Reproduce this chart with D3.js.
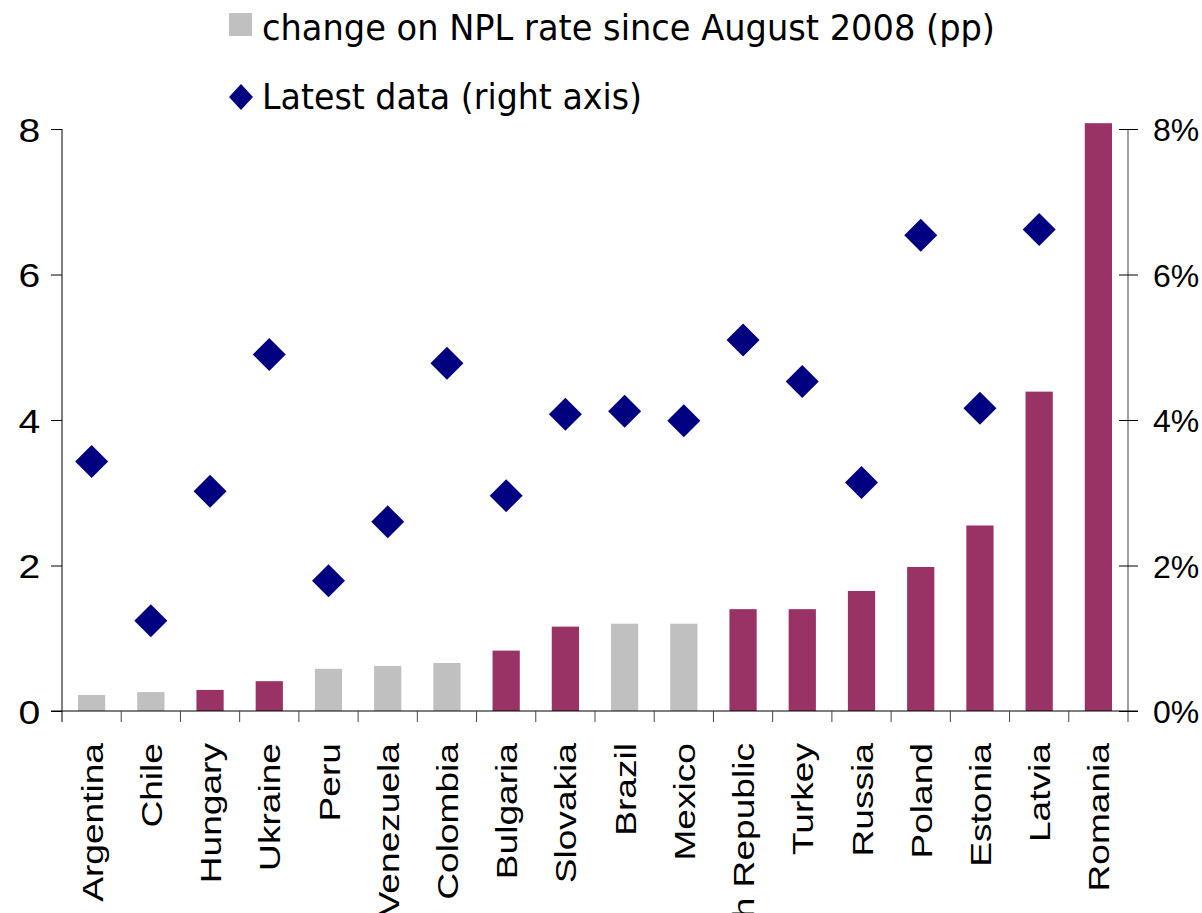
<!DOCTYPE html>
<html>
<head>
<meta charset="utf-8">
<script src="https://cdn.jsdelivr.net/npm/d3@7"></script>
<style>
  body { margin: 0; background: #fff; }
  svg { display: block; }
</style>
</head>
<body>
<div id="chart"></div>
<script>
// Countries, sorted by the change in NPL rate
var countries = ["Argentina", "Chile", "Hungary", "Ukraine", "Peru", "Venezuela", "Colombia",
    "Bulgaria", "Slovakia", "Brazil", "Mexico", "Czech Republic", "Turkey", "Russia",
    "Poland", "Estonia", "Latvia", "Romania"];
// change on NPL rate since August 2008 (pp), left axis
var changePP = [0.22, 0.26, 0.29, 0.41, 0.58, 0.62, 0.66, 0.83, 1.16, 1.20, 1.20, 1.40,
    1.40, 1.65, 1.98, 2.55, 4.39, 8.08];
// latest NPL rate (%), right axis; no diamond for Romania
var latest = [3.43, 1.24, 3.02, 4.90, 1.79, 2.60, 4.78, 2.96, 4.08, 4.12, 3.99, 5.10,
    4.53, 3.14, 6.54, 4.16, 6.62, null];
// Latin American countries drawn in grey
var latam = ["Argentina", "Chile", "Peru", "Venezuela", "Colombia", "Brazil", "Mexico"];
var leftTicks = [0, 2, 4, 6, 8];
var rightTicks = [0, 2, 4, 6, 8];

var width = 1202, height = 913;
var plotLeft = 62, plotRight = 1128, plotTop = 129, plotBottom = 711;

var svg = d3.select("#chart").append("svg")
    .attr("width", width)
    .attr("height", height);

var x = d3.scaleBand().domain(countries).range([plotLeft, plotRight]).padding(0);
var y = d3.scaleLinear().domain([0, 8]).range([plotBottom, plotTop]);
var y2 = d3.scaleLinear().domain([0, 8]).range([plotBottom, plotTop]);

var barW = x.bandwidth() * 0.46;

// Bars
svg.selectAll(".bar")
    .data(countries)
    .enter().append("rect")
    .attr("class", "bar")
    .attr("x", function(d) { return x(d) + x.bandwidth() / 2 - barW / 2; })
    .attr("width", barW)
    .attr("y", function(d, i) { return y(changePP[i]); })
    .attr("height", function(d, i) { return y(0) - y(changePP[i]); })
    .style("fill", function(d) { return latam.includes(d) ? "#c0c0c0" : "#993366"; });

// Left axis
var axL = svg.append("g")
    .attr("transform", "translate(" + plotLeft + ",0)")
    .call(d3.axisLeft(y).tickValues(leftTicks).tickSize(11).tickPadding(10).tickFormat(d3.format("d")));
axL.select(".domain").attr("d", "M0," + plotTop + "V" + (plotBottom + 11)).style("stroke", "#000");
axL.selectAll(".tick line").style("stroke", "#000");
axL.selectAll("text")
    .attr("transform", "scale(1.15,1)")
    .style("font-family", "Liberation Sans, Arial, sans-serif")
    .style("font-size", "34px")
    .style("fill", "#000")
    .attr("x", -19)
    .attr("dy", "0.36em");

// Right axis
var axR = svg.append("g")
    .attr("transform", "translate(" + plotRight + ",0)")
    .call(d3.axisRight(y2).tickValues(rightTicks).tickSize(10).tickPadding(15)
        .tickFormat(function(d) { return d + "%"; }));
axR.select(".domain").attr("d", "M0," + plotTop + "V" + (plotBottom + 11)).style("stroke", "#808080").style("stroke-width", 1.5);
axR.selectAll(".tick line").attr("x1", -9).style("stroke", "#000");
axR.selectAll("text")
    .style("font-family", "Liberation Sans, Arial, sans-serif")
    .style("font-size", "32px")
    .style("fill", "#000")
    .attr("dy", "0.36em");

// Category axis (ticks at band boundaries)
svg.append("line")
    .attr("x1", plotLeft - 11).attr("x2", plotRight + 10)
    .attr("y1", plotBottom).attr("y2", plotBottom)
    .style("stroke", "#000").style("stroke-width", 1.2);

var bounds = countries.map(function(d) { return x(d); }).concat([plotRight]);
svg.selectAll(".ctick")
    .data(bounds.slice(1, -1))
    .enter().append("line")
    .attr("class", "ctick")
    .attr("x1", function(d) { return d; }).attr("x2", function(d) { return d; })
    .attr("y1", plotBottom).attr("y2", plotBottom + 11)
    .style("stroke", "#444");

svg.selectAll(".clabel")
    .data(countries)
    .enter().append("text")
    .attr("class", "clabel")
    .attr("transform", function(d) {
        return "translate(" + (x(d) + x.bandwidth() / 2 + 11) + "," + (plotBottom + 32) + ") rotate(-90) scale(1.28,1)";
    })
    .style("text-anchor", "end")
    .style("font-family", "Liberation Sans, Arial, sans-serif")
    .style("font-size", "29px")
    .style("fill", "#000")
    .text(function(d) { return d; });

// Diamonds (right axis)
function diamond(r) {
    return "M0," + (-r) + "L" + r + ",0L0," + r + "L" + (-r) + ",0Z";
}
svg.selectAll(".pt")
    .data(countries.filter(function(d, i) { return latest[i] != null; }))
    .enter().append("path")
    .attr("class", "pt")
    .attr("d", diamond(16.5))
    .attr("transform", function(d) {
        var i = countries.indexOf(d);
        return "translate(" + (x(d) + x.bandwidth() / 2) + "," + y2(latest[i]) + ")";
    })
    .style("fill", "#000080");

// Legend
var legend = svg.append("g");
legend.append("rect")
    .attr("x", 229).attr("y", 13).attr("width", 23).attr("height", 23)
    .style("fill", "#c0c0c0");
legend.append("text")
    .attr("x", 262).attr("y", 40)
    .attr("textLength", 733).attr("lengthAdjust", "spacingAndGlyphs")
    .style("font-family", "DejaVu Sans, sans-serif")
    .style("font-size", "35px")
    .text("change on NPL rate since August 2008 (pp)");
legend.append("path")
    .attr("d", "M0,-13L12,0L0,13L-12,0Z")
    .attr("transform", "translate(241,97)")
    .style("fill", "#000080");
legend.append("text")
    .attr("x", 262).attr("y", 109)
    .attr("textLength", 380).attr("lengthAdjust", "spacingAndGlyphs")
    .style("font-family", "DejaVu Sans, sans-serif")
    .style("font-size", "35px")
    .text("Latest data (right axis)");
</script>
</body>
</html>
